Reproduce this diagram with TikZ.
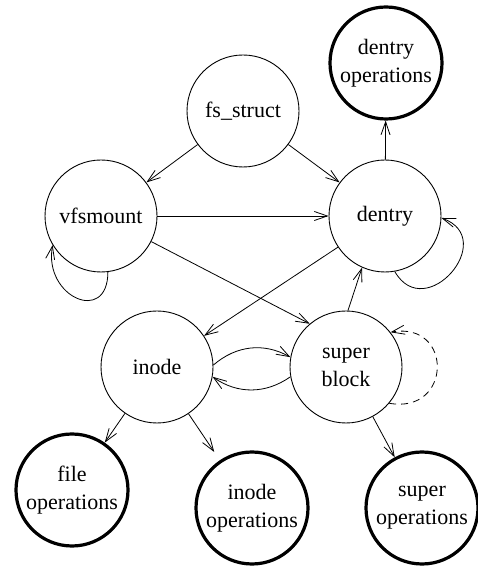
\documentclass[tikz,border=0pt]{standalone}
\usepackage{fontspec}
\setmainfont{Liberation Serif}
\usetikzlibrary{arrows.meta}

\tikzset{
    obj node/.style={circle,draw,line width=0.9pt,minimum size=112pt,inner sep=0,align=center},
    ops node/.style={obj node, line width=3.2pt},
    link/.style={-{Straight Barb[length=13pt,width=9pt]},line width=0.8pt},
    maybe/.style={link, dash pattern=on 7pt off 5pt}
    }

\begin{document}
\begin{tikzpicture}[x=1pt,y=1pt,
    font=\fontsize{22}{28}\selectfont]
                \useasboundingbox (0,0) rectangle (478,567);
                % the objects
                \node(fs)[obj node] at (243,456){fs\_struct};
                \node(vfs)[obj node] at (101,351){vfsmount};
                \node(den)[obj node] at (385,351){dentry};
                \node(ino)[obj node] at (157,200){inode};
                \node(sb)[obj node] at (346,200){super\\block};
                % their operations
                \node(dops)[ops node] at (386,504){dentry\\operations};
                \node(fops)[ops node] at (72,77){file\\operations};
                \node(iops)[ops node] at (252,59){inode\\operations};
                \node(sops)[ops node] at (422,59){super\\operations};

                \draw[link] (fs) -- (vfs);
                \draw[link] (fs) -- (den);
                \draw[link] (vfs) -- (den);
                \draw[link] (vfs.-27) -- (sb.130);
                \draw[link] (vfs.-83) to[out=-90,in=-100,looseness=2.2] (vfs.211);
                \draw[link] (den.-80) to[out=-60,in=-20,looseness=2.2] (den.-2);
                \draw[link] (den) -- (dops);
                \draw[link] (den) -- (ino);
                \draw[link] (sb.88) -- (den.246);
                \draw[link] (ino.2) to[bend left=35] (sb.170);
                \draw[link] (sb.190) to[bend left=35] (ino.-10);
                \draw[maybe] (sb.-40) to[out=-10,in=10,looseness=2.3] (sb.38);
                \draw[link] (ino) -- (fops);
                \draw[link,shorten >=10pt] (ino) -- (iops);
                \draw[link] (sb) -- (sops);
            \end{tikzpicture}
\end{document}
